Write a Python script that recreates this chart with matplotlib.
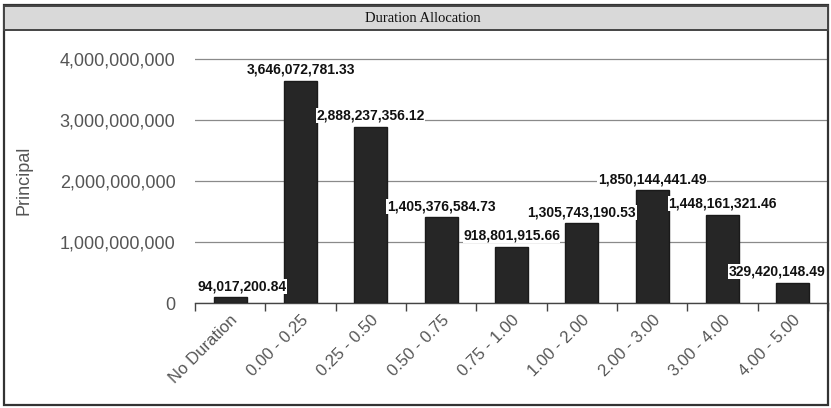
import numpy as np
import matplotlib
matplotlib.use('Agg')
import matplotlib.pyplot as plt
from matplotlib.patches import Rectangle
from matplotlib.ticker import FuncFormatter

categories = ["No Duration", "0.00 - 0.25", "0.25 - 0.50", "0.50 - 0.75", "0.75 - 1.00",
              "1.00 - 2.00", "2.00 - 3.00", "3.00 - 4.00", "4.00 - 5.00"]
principal = [94017200.84, 3646072781.33, 2888237356.12, 1405376584.73, 918801915.66,
             1305743190.53, 1850144441.49, 1448161321.46, 329420148.49]
yticks = [0, 1e9, 2e9, 3e9, 4e9]

plt.rcParams['font.family'] = ['Liberation Sans', 'DejaVu Sans']

W, H = 831, 408
fig = plt.figure(figsize=(W / 100, H / 100), dpi=100)

# outer panel frame and title bar
fig.patches.append(Rectangle((4 / W, 3 / H), 824 / W, 400 / H, transform=fig.transFigure,
                             facecolor='none', edgecolor='#333333', linewidth=1.6, zorder=4))
fig.patches.append(Rectangle((4 / W, 1 - 30 / H), 824 / W, 24 / H, transform=fig.transFigure,
                             facecolor='#d9d9d9', edgecolor='#444444', linewidth=1.4, zorder=4))
fig.text(423 / W, 1 - 18 / H, "Duration Allocation", ha='center', va='center',
         fontsize=10.5, family='Liberation Serif', color='#111111', zorder=5)

ax = fig.add_axes([195 / W, 1 - 303 / H, 633 / W, 258 / H])
ax.patch.set_alpha(0)

x = np.arange(len(categories))
bars = ax.bar(x, principal, width=0.47, color='#262626', edgecolor='#1a1a1a', zorder=3)

ax.set_xlim(-0.5, len(categories) - 0.5)
ax.set_ylim(0, 4.23e9)
ax.set_yticks(yticks)
ax.yaxis.set_major_formatter(FuncFormatter(lambda v, p: f"{v:,.0f}"))
ax.tick_params(axis='y', length=0, pad=14, labelsize=13, labelcolor='#555555')
ax.grid(axis='y', color='#8a8a8a', linewidth=0.9, zorder=1)

# tick marks at category boundaries, labels at centers
ax.set_xticks(np.arange(len(categories) + 1) - 0.5)
ax.set_xticklabels([])
ax.tick_params(axis='x', which='major', length=6, width=1, color='#444444', direction='out')
ax.set_xticks(x, minor=True)
ax.set_xticklabels(categories, minor=True, rotation=45, ha='right', rotation_mode='anchor',
                   fontsize=12, color='#555555')
ax.tick_params(axis='x', which='minor', length=0, pad=7)

for s in ['top', 'right', 'left']:
    ax.spines[s].set_visible(False)
ax.spines['bottom'].set_color('#444444')
ax.spines['bottom'].set_linewidth(1.0)

fig.text(24 / W, 1 - 180 / H, "Principal", rotation=90, ha='center', va='center',
         fontsize=13, color='#555555')

labels = []
for b, v in zip(bars, principal):
    t = ax.annotate(f"{v:,.2f}", (b.get_x() + b.get_width() / 2, v),
                    xytext=(0, 4), textcoords='offset pixels', ha='center', va='bottom',
                    fontsize=10, fontweight='bold', color='#111111', zorder=5,
                    bbox=dict(facecolor='white', edgecolor='none', pad=0.3))
    labels.append(t)

# keep value labels inside the plot area
fig.canvas.draw()
r = fig.canvas.get_renderer()
ab = ax.get_window_extent(r)
for t in labels:
    bb = t.get_window_extent(r)
    dx = 0
    if bb.x0 < ab.x0 + 2:
        dx = ab.x0 + 2 - bb.x0
    elif bb.x1 > ab.x1 - 3:
        dx = ab.x1 - 3 - bb.x1
    t.xyann = (dx, 4)

fig.savefig("out.png", dpi=100)
